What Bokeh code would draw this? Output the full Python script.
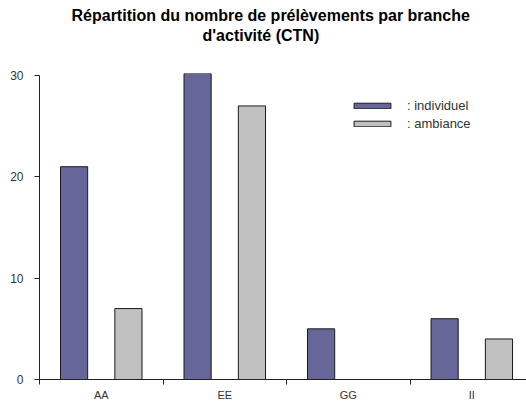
from bokeh.plotting import figure
from bokeh.models import ColumnDataSource, FixedTicker, Range1d, Legend, LegendItem, Title
from bokeh.embed import file_html
from bokeh.resources import INLINE

categories = ["AA", "EE", "GG", "II"]
individuel = [21, 30.2, 5, 6]
ambiance = [7, 27, 0, 4]
series_labels = [": individuel", ": ambiance"]
y_ticks = [0, 10, 20, 30]
title_lines = ["Répartition du nombre de prélèvements par branche", "d'activité (CTN)"]

centers = [i + 0.5 for i in range(len(categories))]
src = ColumnDataSource(dict(
    x_ind=[c - 0.22 for c in centers],
    x_amb=[c + 0.22 for c in centers],
    ind=individuel, amb=ambiance))

FONT = "Liberation Sans"
p = figure(width=526, height=403, output_backend="svg", toolbar_location=None,
           x_range=Range1d(0, 3.943), y_range=Range1d(0, 30.2),
           min_border_left=39, min_border_right=0, min_border_top=73, min_border_bottom=23)
p.title.visible = False
# spacer between frame and title block
p.add_layout(Title(text=" ", text_font_size="1px", standoff=27), "above")
for txt, so, off in [(title_lines[1], 0, 163), (title_lines[0], 1, 32)]:
    p.add_layout(Title(text=txt, align="left", offset=off, text_font=FONT,
                       text_font_size="16px", text_font_style="bold",
                       text_color="#000000", standoff=so), "above")
p.outline_line_color = None
p.xgrid.visible = False
p.ygrid.visible = False
p.background_fill_color = "white"

r1 = p.vbar(x="x_ind", top="ind", width=0.22, source=src,
            fill_color="#666699", line_color="#1a1a1a", line_width=1)
r2 = p.vbar(x="x_amb", top="amb", width=0.22, source=src,
            fill_color="#C0C0C0", line_color="#1a1a1a", line_width=1)

# axes
p.yaxis.ticker = FixedTicker(ticks=y_ticks, minor_ticks=[])
p.yaxis.bounds = (0, 30)
p.yaxis.major_tick_out = 5
p.yaxis.major_tick_in = 0
p.yaxis.axis_line_color = "#222222"
p.yaxis.major_tick_line_color = "#222222"
p.yaxis.major_label_text_font = FONT
p.yaxis.major_label_text_font_size = "12px"
p.yaxis.major_label_text_color = "#333333"
p.yaxis.major_label_standoff = 11

p.xaxis.ticker = FixedTicker(ticks=centers, minor_ticks=list(range(len(categories) + 1)))
p.xaxis.major_label_overrides = {c: lab for c, lab in zip(centers, categories)}
p.xaxis.major_tick_out = 0
p.xaxis.major_tick_in = 0
p.xaxis.minor_tick_out = 5
p.xaxis.minor_tick_in = 0
p.xaxis.minor_tick_line_color = "#222222"
p.xaxis.axis_line_color = "#222222"
p.xaxis.major_label_text_font = FONT
p.xaxis.major_label_text_font_size = "11px"
p.xaxis.major_label_text_color = "#333333"
p.xaxis.major_label_standoff = 4

legend = Legend(items=[LegendItem(label=series_labels[0], renderers=[r1]),
                       LegendItem(label=series_labels[1], renderers=[r2])],
                location=(310, 248), orientation="vertical",
                glyph_width=46, glyph_height=7, label_height=14, spacing=3,
                label_standoff=12, padding=0, margin=0,
                border_line_color=None, background_fill_alpha=0,
                label_text_font=FONT, label_text_font_size="13px",
                label_text_color="#333333")
p.add_layout(legend, "center")

open("out.html", "w").write(file_html(p, INLINE))
